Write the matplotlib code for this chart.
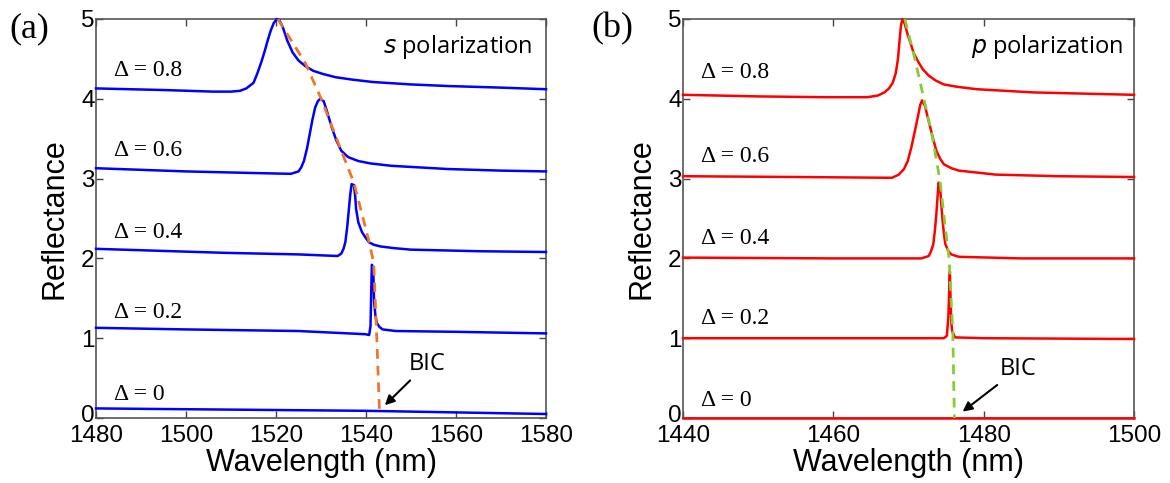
import matplotlib
matplotlib.use("Agg")
import matplotlib.pyplot as plt
import matplotlib.transforms as mtransforms

# ---------------- data ----------------
# (a) s polarization
s08_x = [1480, 1495, 1506, 1510, 1512, 1513.4, 1515.0, 1515.8, 1516.8, 1517.5, 1518.2, 1518.8, 1519.5, 1520.2, 1520.8, 1521.5, 1522.5, 1523.7, 1525, 1526.5, 1528.3, 1530.5, 1533.3, 1537, 1541.6, 1550, 1558.2, 1570, 1580]
s08_y = [4.13, 4.11, 4.09, 4.09, 4.10, 4.13, 4.20, 4.31, 4.47, 4.60, 4.74, 4.85, 4.95, 5.00, 4.98, 4.90, 4.73, 4.58, 4.48, 4.41, 4.35, 4.31, 4.27, 4.24, 4.21, 4.18, 4.16, 4.14, 4.12]
s06_x = [1480, 1500, 1515, 1523.3, 1525, 1525.6, 1526.2, 1526.9, 1527.5, 1528.1, 1528.7, 1529.3, 1529.8, 1530.6, 1531.4, 1532.4, 1533.4, 1534.5, 1536, 1538.3, 1541, 1545.7, 1558.2, 1570, 1580]
s06_y = [3.13, 3.09, 3.07, 3.06, 3.09, 3.14, 3.22, 3.38, 3.56, 3.74, 3.89, 3.97, 4.00, 3.97, 3.83, 3.64, 3.48, 3.35, 3.27, 3.22, 3.19, 3.16, 3.12, 3.10, 3.09]
s04_x = [1480, 1508.4, 1525, 1533.7, 1534.5, 1535.0, 1535.4, 1535.8, 1536.2, 1536.5, 1536.8, 1537.3, 1537.6, 1537.8, 1538.3, 1539.1, 1539.9, 1540.7, 1541.8, 1543.2, 1546, 1549.9, 1565, 1580]
s04_y = [2.12, 2.07, 2.05, 2.03, 2.06, 2.12, 2.20, 2.38, 2.62, 2.80, 2.93, 2.92, 2.78, 2.62, 2.45, 2.33, 2.26, 2.20, 2.17, 2.15, 2.13, 2.11, 2.09, 2.08]
s02_x = [1480, 1500, 1525, 1539.9, 1540.7, 1541.0, 1541.15, 1541.3, 1541.6, 1541.8, 1542.1, 1542.4, 1543.0, 1543.7, 1546.6, 1560, 1580]
s02_y = [1.13, 1.11, 1.09, 1.05, 1.04, 1.15, 1.55, 1.92, 1.88, 1.46, 1.28, 1.19, 1.14, 1.11, 1.09, 1.08, 1.06]
s00_x = [1480, 1500, 1520, 1540, 1560, 1580]
s00_y = [0.12, 0.11, 0.10, 0.09, 0.07, 0.05]
s_trace_x = [1520.4, 1523.5, 1526.5, 1530.2, 1534.5, 1537.3, 1540.5, 1541.7, 1542.4, 1543.0]
s_trace_y = [5.00, 4.72, 4.45, 3.98, 3.35, 2.95, 2.25, 1.95, 1.00, 0.08]

# (b) p polarization
p08_x = [1440, 1450, 1458.8, 1464.5, 1465.9, 1466.8, 1467.4, 1467.9, 1468.3, 1468.6, 1468.8, 1469.0, 1469.2, 1469.5, 1469.9, 1470.3, 1470.7, 1471.2, 1471.9, 1472.7, 1473.6, 1474.7, 1476.5, 1479.1, 1486.6, 1500]
p08_y = [4.05, 4.03, 4.02, 4.02, 4.04, 4.08, 4.13, 4.20, 4.32, 4.50, 4.72, 4.92, 5.00, 4.94, 4.80, 4.69, 4.57, 4.48, 4.37, 4.29, 4.23, 4.18, 4.15, 4.12, 4.08, 4.05]
p06_x = [1440, 1455, 1467.8, 1468.7, 1469.4, 1469.9, 1470.4, 1470.9, 1471.3, 1471.55, 1471.8, 1472.2, 1472.5, 1472.9, 1473.3, 1473.7, 1474.2, 1474.7, 1475.7, 1476.7, 1481.6, 1490, 1500]
p06_y = [3.03, 3.02, 3.01, 3.05, 3.12, 3.22, 3.40, 3.62, 3.80, 3.92, 3.98, 3.91, 3.79, 3.64, 3.49, 3.35, 3.25, 3.18, 3.13, 3.10, 3.05, 3.03, 3.02]
p04_x = [1440, 1460, 1471.7, 1472.7, 1473.0, 1473.3, 1473.5, 1473.7, 1473.85, 1474.0, 1474.2, 1474.35, 1474.5, 1474.7, 1474.9, 1475.3, 1475.7, 1476.7, 1485, 1500]
p04_y = [2.01, 2.00, 2.00, 2.03, 2.09, 2.18, 2.34, 2.55, 2.75, 2.95, 2.89, 2.70, 2.51, 2.32, 2.18, 2.09, 2.05, 2.02, 2.00, 2.00]
p02_x = [1440, 1460, 1474.7, 1475.1, 1475.3, 1475.4, 1475.5, 1475.6, 1475.7, 1475.8, 1476.2, 1480, 1500]
p02_y = [1.00, 1.00, 1.00, 1.03, 1.26, 1.55, 1.84, 1.46, 1.20, 1.09, 1.01, 1.00, 0.99]
p00_x = [1440, 1500]
p00_y = [0.0, 0.0]
p_trace_x = [1469.5, 1470.7, 1472.0, 1473.2, 1474.2, 1474.9, 1475.4, 1475.9, 1476.1]
p_trace_y = [5.00, 4.56, 4.02, 3.51, 2.97, 2.38, 2.00, 1.05, 0.00]

delta_labels = ["Δ = 0.8", "Δ = 0.6", "Δ = 0.4", "Δ = 0.2", "Δ = 0"]
s_xticks = [1480, 1500, 1520, 1540, 1560, 1580]
p_xticks = [1440, 1460, 1480, 1500]
yticks = [0, 1, 2, 3, 4, 5]

# ---------------- figure ----------------
W, H = 1170, 483
fig = plt.figure(figsize=(W / 100, H / 100), dpi=100)
fig.patch.set_facecolor("white")

SANS = ["Liberation Sans", "DejaVu Sans"]
HUM = ["Open Sans", "DejaVu Sans"]
SERIF = ["Liberation Serif", "DejaVu Serif"]

def make_axes(x0, x1, y0=19, y1=418):
    return fig.add_axes([x0 / W, (H - y1) / H, (x1 - x0) / W, (y1 - y0) / H])

def style(ax, xlim, xticks):
    ax.set_xlim(*xlim)
    ax.set_ylim(0, 5)
    ax.set_xticks(xticks)
    ax.set_yticks(yticks)
    ax.tick_params(direction="in", length=5, width=1, colors="#444444",
                   top=True, right=True, labelsize=17.5, labelcolor="black")
    ax.tick_params(axis="x", pad=5)
    ax.tick_params(axis="y", pad=1)
    for lab in ax.get_xticklabels() + ax.get_yticklabels():
        lab.set_family(SANS)
    # lift the "0" label a touch so it does not collide with the first x label
    zero = ax.get_yticklabels()[0]
    zero.set_transform(zero.get_transform() +
                       mtransforms.ScaledTranslation(0, 4 / 100, fig.dpi_scale_trans))
    for sp in ax.spines.values():
        sp.set_color("#555555")
        sp.set_linewidth(1.2)
    ax.set_xlabel("Wavelength (nm)", fontsize=22, family=SANS, labelpad=1)
    ax.set_ylabel("Reflectance", fontsize=22, family=SANS, labelpad=8)

# ----- (a)
axa = make_axes(96, 546)
blue = "#0000ff"
for xs, ys in [(s08_x, s08_y), (s06_x, s06_y), (s04_x, s04_y), (s02_x, s02_y), (s00_x, s00_y)]:
    axa.plot(xs, ys, color=blue, lw=1.8, clip_on=False, zorder=3)
axa.plot(s_trace_x, s_trace_y, color="#f07528", lw=2.0, ls=(0, (3.5, 2.5)), zorder=4)
style(axa, (1480, 1580), s_xticks)
for lab, yy in zip(delta_labels, [70, 151, 232, 312, 394]):
    axa.text(0.04, (418 - yy) / 399, lab, transform=axa.transAxes, fontsize=17,
             family=SERIF, va="center", ha="left")
axa.text(0.97, (418 - 47) / 399, r"$\it{s}$ polarization", transform=axa.transAxes,
         fontsize=17, family=HUM, va="center", ha="right")
axa.annotate("BIC", xy=(1544.2, 0.16), xytext=(1549.5, 0.68), fontsize=17, family=HUM,
             va="center", ha="left",
             arrowprops=dict(arrowstyle="-|>", color="black", lw=1.5, mutation_scale=14,
                             shrinkA=2, shrinkB=0))
fig.text(29 / W, 1 - 29 / H, "(a)", fontsize=26, family=SERIF, ha="center", va="center")

# ----- (b)
axb = make_axes(683, 1134)
red = "#ff0000"
for xs, ys in [(p08_x, p08_y), (p06_x, p06_y), (p04_x, p04_y), (p02_x, p02_y), (p00_x, p00_y)]:
    axb.plot(xs, ys, color=red, lw=1.8, clip_on=False, zorder=3)
axb.plot(p_trace_x, p_trace_y, color="#88cc33", lw=2.0, ls=(0, (3.5, 2.5)), zorder=4)
style(axb, (1440, 1500), p_xticks)
for lab, yy in zip(delta_labels, [72, 157, 238, 318, 400]):
    axb.text(0.04, (418 - yy) / 399, lab, transform=axb.transAxes, fontsize=17,
             family=SERIF, va="center", ha="left")
axb.text(0.975, (418 - 47) / 399, r"$\it{p}$ polarization", transform=axb.transAxes,
         fontsize=17, family=HUM, va="center", ha="right")
axb.annotate("BIC", xy=(1477.2, 0.08), xytext=(1482.2, 0.62), fontsize=17, family=HUM,
             va="center", ha="left",
             arrowprops=dict(arrowstyle="-|>", color="black", lw=1.5, mutation_scale=14,
                             shrinkA=2, shrinkB=0))
fig.text(612 / W, 1 - 29 / H, "(b)", fontsize=26, family=SERIF, ha="center", va="center")

fig.savefig("out.png", dpi=100)
